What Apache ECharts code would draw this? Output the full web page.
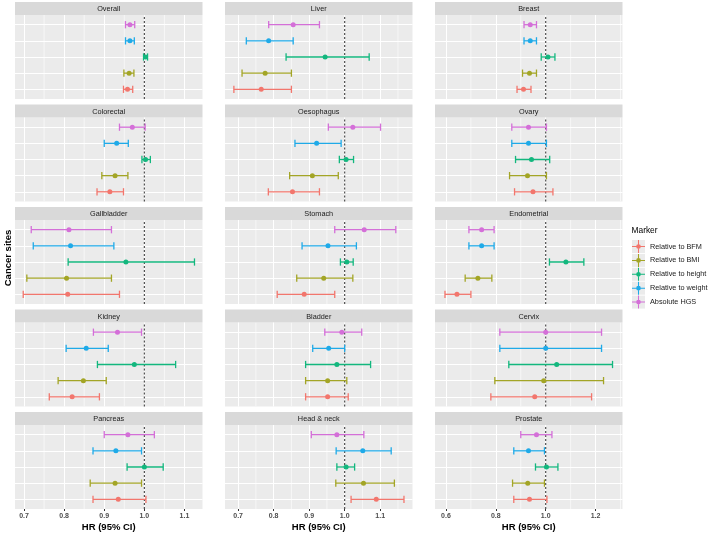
<!DOCTYPE html>
<html><head><meta charset="utf-8">
<script src="https://cdn.jsdelivr.net/npm/echarts@6/dist/echarts.min.js"></script>
<style>html,body{margin:0;padding:0;background:#fff;}#c{width:709px;height:534px;}</style>
</head><body><div id="c"></div>
<script>
// ---------- data ----------
const sites = ['Overall','Liver','Breast','Colorectal','Oesophagus','Ovary','Gallbladder','Stomach','Endometrial','Kidney','Bladder','Cervix','Pancreas','Head & neck','Prostate'];
const markers = ['Relative to BFM','Relative to BMI','Relative to height','Relative to weight','Absolute HGS'];
const markerColors = ['#F2766D','#A3A526','#13B77E','#1FAAE8','#D46FD8'];
// [lower CI, HR, upper CI], one triplet per site in the order of `sites`
const relBFM = [[0.948,0.958,0.971],[0.688,0.765,0.850],[0.885,0.911,0.941],[0.882,0.914,0.948],[0.785,0.853,0.929],[0.875,0.949,1.029],[0.698,0.809,0.938],[0.810,0.886,0.972],[0.596,0.644,0.700],[0.763,0.820,0.888],[0.890,0.952,1.010],[0.780,0.956,1.184],[0.872,0.935,1.004],[1.018,1.089,1.167],[0.872,0.935,1.005]];
const relBMI = [[0.949,0.962,0.974],[0.711,0.776,0.850],[0.907,0.935,0.963],[0.894,0.927,0.959],[0.845,0.909,0.982],[0.855,0.927,1.003],[0.707,0.806,0.918],[0.865,0.941,1.023],[0.677,0.728,0.784],[0.785,0.848,0.905],[0.890,0.952,1.006],[0.796,0.992,1.232],[0.865,0.927,0.993],[0.975,1.053,1.140],[0.867,0.928,0.995]];
const relHeight = [[0.998,1.003,1.008],[0.835,0.945,1.069],[0.982,1.009,1.037],[0.994,1.003,1.015],[0.985,1.004,1.025],[0.879,0.943,1.016],[0.810,0.954,1.125],[0.988,1.006,1.024],[1.015,1.081,1.153],[0.883,0.975,1.078],[0.890,0.978,1.073],[0.852,1.044,1.268],[0.957,1.000,1.047],[0.978,1.004,1.028],[0.959,1.003,1.049]];
const relWeight = [[0.953,0.964,0.975],[0.723,0.786,0.855],[0.913,0.938,0.963],[0.900,0.931,0.960],[0.860,0.921,0.990],[0.864,0.931,1.003],[0.723,0.816,0.924],[0.880,0.953,1.033],[0.692,0.743,0.793],[0.805,0.855,0.910],[0.910,0.955,1.000],[0.816,1.000,1.224],[0.872,0.929,0.993],[0.976,1.051,1.131],[0.872,0.931,0.995]];
const absHGS = [[0.953,0.964,0.976],[0.786,0.855,0.929],[0.913,0.938,0.963],[0.938,0.970,1.002],[0.954,1.023,1.101],[0.864,0.931,1.003],[0.718,0.812,0.918],[0.972,1.055,1.144],[0.692,0.743,0.793],[0.873,0.933,0.993],[0.944,0.992,1.048],[0.816,1.000,1.224],[0.900,0.959,1.025],[0.906,0.978,1.054],[0.900,0.963,1.025]];
const markerData = [relBFM, relBMI, relHeight, relWeight, absHGS];
const refHR = 1;
// x axis per panel column
const colRanges = [[0.6775,1.145],[0.663,1.191],[0.556,1.308]];
const colTicks = [[0.7,0.8,0.9,1.0,1.1],[0.7,0.8,0.9,1.0,1.1],[0.6,0.8,1.0,1.2]];
const colMinor = [[0.75,0.85,0.95,1.05],[0.75,0.85,0.95,1.05,1.15],[0.7,0.9,1.1,1.3]];
const yPositions = [0,1,2,3,4];

// ---------- layout ----------
const FONT = '"Liberation Sans", Arial, Helvetica, sans-serif';
const colLeft = [15, 225, 435];
const panelW = 187.5, panelH = 84, rowPitch = 102.5, stripH = 13, panelTop0 = 15;
const colStep = [0.1, 0.1, 0.2];

const chart = echarts.init(document.getElementById('c'), null, {renderer:'canvas', width:709, height:534});
const grid = [], xAxis = [], yAxis = [], series = [], graphic = [];

function errorBarRender(params, api) {
  const y = api.value(3);
  const lo = api.coord([api.value(0), y]);
  const est = api.coord([api.value(1), y]);
  const hi = api.coord([api.value(2), y]);
  const h = api.size([0, 0.45])[1] / 2;
  const color = api.visual('color');
  const ls = {stroke: color, lineWidth: 1.3};
  return {type:'group', children:[
    {type:'line', shape:{x1:lo[0], y1:lo[1], x2:hi[0], y2:hi[1]}, style:ls},
    {type:'line', shape:{x1:lo[0], y1:lo[1]-h, x2:lo[0], y2:lo[1]+h}, style:ls},
    {type:'line', shape:{x1:hi[0], y1:hi[1]-h, x2:hi[0], y2:hi[1]+h}, style:ls},
    {type:'circle', shape:{cx:est[0], cy:est[1], r:2.5}, style:{fill: color}}
  ]};
}

sites.forEach((site, i) => {
  const r = Math.floor(i / 3), c = i % 3;
  const top = panelTop0 + r * rowPitch;
  const bottomRow = r === 4;
  const ticks = colTicks[c];
  grid.push({left: colLeft[c], top: top, width: panelW, height: panelH, show: true, backgroundColor: '#EBEBEB', borderWidth: 0, containLabel: false});
  xAxis.push({
    type:'value', gridIndex:i, position:'bottom', min: colRanges[c][0], max: colRanges[c][1],
    splitNumber: 5, minInterval: colStep[c], maxInterval: colStep[c],
    axisLine:{show:false, onZero:false},
    axisTick:{show: bottomRow, length: 2, customValues: ticks, lineStyle:{color:'#333333', width:1}},
    axisLabel:{show: bottomRow, customValues: ticks, margin: 4, fontSize: 7, fontWeight:'bold', color:'#4D4D4D', fontFamily: FONT,
      formatter: v => { const s = v.toFixed(1); return ticks.some(t => Math.abs(t - v) < 1e-6) ? s : ''; }},
    splitLine:{show:true, lineStyle:{color:'#FFFFFF', width:1}},
    minorSplitLine:{show:false},
    name: bottomRow ? 'HR (95% CI)' : '', nameLocation:'middle', nameGap: 13,
    nameTextStyle:{fontSize: 9.5, fontWeight:'bold', color:'#000', fontFamily: FONT}
  });
  yAxis.push({
    type:'value', gridIndex:i, position:'left', min:-0.6, max:4.6, splitNumber:5, minInterval:1, maxInterval:1,
    axisLine:{show:false, onZero:false}, axisTick:{show:false, customValues: yPositions}, axisLabel:{show:false},
    splitLine:{show:true, lineStyle:{color:'#FFFFFF', width:1}}
  });
  // minor vertical grid lines
  series.push({
    type:'custom', xAxisIndex:i, yAxisIndex:i, z:1, silent:true, clip:true,
    data: colMinor[c].map(v => [v]),
    renderItem: (p, api) => {
      const a = api.coord([api.value(0), -0.6]), b = api.coord([api.value(0), 4.6]);
      return {type:'line', shape:{x1:a[0], y1:a[1], x2:b[0], y2:b[1]}, style:{stroke:'#FFFFFF', lineWidth:0.6}};
    }
  });
  // reference line at HR = 1
  series.push({
    type:'custom', xAxisIndex:i, yAxisIndex:i, z:1.5, silent:true,
    data: [[refHR]],
    renderItem: (p, api) => {
      const a = api.coord([api.value(0), -0.6]), b = api.coord([api.value(0), 4.6]);
      return {type:'line', shape:{x1:a[0], y1:a[1], x2:b[0], y2:b[1]}, style:{stroke:'#404040', lineWidth:1.1, lineDash:[2,2]}};
    }
  });
  markers.forEach((m, k) => {
    const d = markerData[k][i];
    series.push({
      type:'custom', name: m, xAxisIndex:i, yAxisIndex:i, z:2,
      itemStyle:{color: markerColors[k]},
      encode:{x:[0,1,2], y:3},
      data:[[d[0], d[1], d[2], yPositions[k]]],
      renderItem: errorBarRender
    });
  });
  // strip
  graphic.push({type:'rect', silent:true, shape:{x: colLeft[c], y: top - stripH, width: panelW, height: stripH}, style:{fill:'#D9D9D9'}});
  graphic.push({type:'text', silent:true, x: colLeft[c] + panelW / 2, y: top - stripH / 2 + 0.5,
    style:{text: site, align:'center', verticalAlign:'middle', font: '7.3px ' + FONT, fill:'#1A1A1A'}});
});

// axis title (y)
graphic.push({type:'text', silent:true, x: 8, y: 258, rotation: Math.PI / 2,
  style:{text:'Cancer sites', align:'center', verticalAlign:'middle', font:'bold 9.5px ' + FONT, fill:'#000'}});
// legend title and key backgrounds
graphic.push({type:'text', silent:true, x: 631.5, y: 231,
  style:{text:'Marker', align:'left', verticalAlign:'middle', font:'8.4px ' + FONT, fill:'#000'}});
for (let k = 0; k < markers.length; k++) {
  graphic.push({type:'rect', silent:true, z:-1, shape:{x: 632, y: 240 + k * 13.9, width: 13, height: 13}, style:{fill:'#EBEBEB'}});
}

const keyIcon = 'path://M0,9.2h20v1.6h-20zM9.2,0h1.6v20h-1.6zM10,6.4a3.6,3.6 0 1 1 0,7.2a3.6,3.6 0 1 1 0,-7.2z';

chart.setOption({
  animation:false,
  backgroundColor:'#FFFFFF',
  grid, xAxis, yAxis, series, graphic,
  legend:{
    orient:'vertical', left: 632, top: 240, padding: 0,
    itemWidth: 13, itemHeight: 13, itemGap: 0.9, selectedMode: false,
    textStyle:{fontSize: 7.3, color:'#1A1A1A', fontFamily: FONT},
    data: markers.map(m => ({name: m, icon: keyIcon}))
  }
});
</script></body></html>
